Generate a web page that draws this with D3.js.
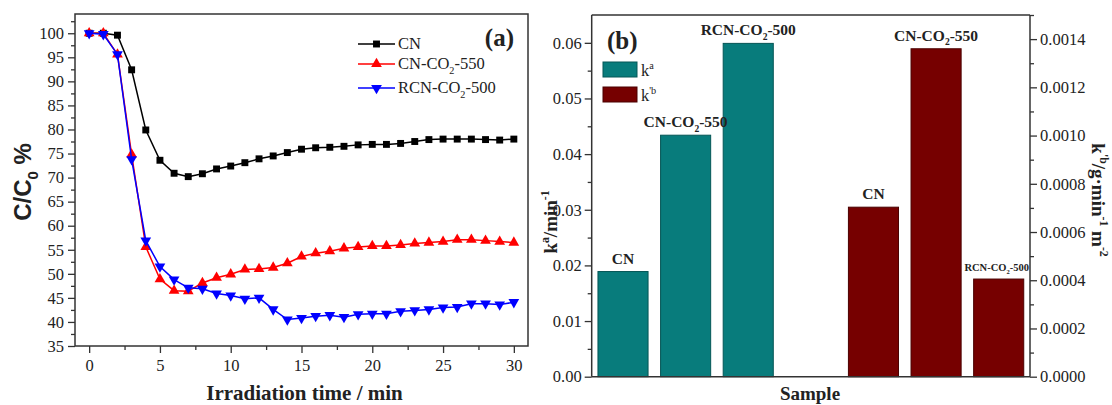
<!DOCTYPE html>
<html>
<head>
<meta charset="utf-8">
<script src="https://cdn.jsdelivr.net/npm/d3@7"></script>
<style>
  body { margin: 0; background: #fff; }
  text { font-family: "Liberation Serif", "Times New Roman", serif; fill: #222; }
</style>
</head>
<body>
<svg id="chart" width="1112" height="405"></svg>
<script>
// ---------- data ----------
var times = [0,1,2,3,4,5,6,7,8,9,10,11,12,13,14,15,16,17,18,19,20,21,22,23,24,25,26,27,28,29,30];
var cn      = [100,100,99.6,92.4,79.9,73.6,70.9,70.2,70.8,71.8,72.4,73.1,73.9,74.5,75.2,75.9,76.2,76.3,76.5,76.8,76.9,76.9,77.1,77.5,77.9,78.0,78.0,78.0,77.9,77.8,78.0];
var cn550   = [100,100,95.6,74.8,55.6,48.9,46.5,46.4,48.1,49.2,49.9,50.9,51.0,51.3,52.2,53.6,54.3,54.7,55.3,55.6,55.8,55.8,56.0,56.3,56.5,56.7,57.1,57.1,56.9,56.7,56.5];
var rcn500  = [100,99.8,95.6,73.8,56.9,51.5,48.8,47.1,46.9,45.9,45.5,44.8,45.0,42.6,40.5,40.8,41.2,41.4,41.0,41.6,41.7,41.7,42.2,42.4,42.6,43.0,43.1,43.8,43.8,43.6,44.1];
var seriesNames = ["CN", "CN-CO2-550", "RCN-CO2-500"];

var samples = ["CN", "CN-CO2-550", "RCN-CO2-500"];
var ka = [0.0189, 0.0434, 0.0599];        // k^a / min^-1
var kb = [0.000703, 0.00136, 0.000405];   // k'^b / g·min^-1 m^-2

var xTicksA = [0,5,10,15,20,25,30];
var yTicksA = [35,40,45,50,55,60,65,70,75,80,85,90,95,100];
var yTicksL = [0,0.01,0.02,0.03,0.04,0.05,0.06];
var yTicksR = [0,0.0002,0.0004,0.0006,0.0008,0.0010,0.0012,0.0014];

var svg = d3.select("#chart");

// split "CN-CO2-550" into parts so the 2 becomes a subscript
function partsOf(name) {
  var m = name.match(/^(.*CO)(2)(.*)$/);
  return m ? [[m[1], ""], [m[2], "sub"], [m[3], ""]] : [[name, ""]];
}
// write parts (normal / sub / sup) as tspans
function rich(t, parts, fs) {
  var shift = 0;
  parts.forEach(function(p) {
    var s = p[1] === "sub" ? fs * 0.3 : p[1] === "sup" ? -fs * 0.42 : 0;
    t.append("tspan")
      .attr("dy", s - shift)
      .style("font-size", p[1] ? (fs * 0.62) + "px" : fs + "px")
      .text(p[0]);
    shift = s;
  });
  return t;
}
function styleTicks(g, fs) {
  g.select(".domain").remove();
  g.selectAll(".tick line").attr("stroke", "#333").attr("stroke-width", 1.3);
  g.selectAll(".tick text").style("font-size", fs + "px").attr("fill", "#222");
}

// ================= panel (a) =================
var A = {left: 75, right: 528, top: 14, bottom: 346};
var x = d3.scaleLinear().domain([-1, 31]).range([A.left, A.right]);
var y = d3.scaleLinear().domain([35, 104]).range([A.bottom, A.top]);

// minor ticks
svg.append("g").attr("transform", "translate(0," + A.bottom + ")")
  .call(d3.axisBottom(x).tickValues(xTicksA.slice(0, -1).map(function(d){ return d + 2.5; })).tickSize(4).tickFormat(""))
  .call(styleTicks, 15);
svg.append("g").attr("transform", "translate(" + A.left + ",0)")
  .call(d3.axisLeft(y).tickValues(yTicksA.map(function(d){ return d + 2.5; })).tickSize(4).tickFormat(""))
  .call(styleTicks, 15);
// major ticks
svg.append("g").attr("transform", "translate(0," + A.bottom + ")")
  .call(d3.axisBottom(x).tickValues(xTicksA).tickSize(7).tickPadding(6))
  .call(styleTicks, 16.5);
svg.append("g").attr("transform", "translate(" + A.left + ",0)")
  .call(d3.axisLeft(y).tickValues(yTicksA).tickSize(7).tickPadding(4))
  .call(styleTicks, 16.5);

svg.append("rect")
  .attr("x", A.left).attr("y", A.top)
  .attr("width", A.right - A.left).attr("height", A.bottom - A.top)
  .attr("fill", "none").attr("stroke", "#333").attr("stroke-width", 1.5);

var lineSeries = [
  {name: seriesNames[0], values: cn,     color: "#000000", symbol: d3.symbolSquare,   rot: 0,   size: 48},
  {name: seriesNames[1], values: cn550,  color: "#ff0000", symbol: d3.symbolTriangle, rot: 0,   size: 50},
  {name: seriesNames[2], values: rcn500, color: "#0000ff", symbol: d3.symbolTriangle, rot: 180, size: 50}
];

var line = d3.line()
  .x(function(d, i) { return x(times[i]); })
  .y(function(d) { return y(d); });

lineSeries.forEach(function(s) {
  var g = svg.append("g");
  g.append("path")
    .attr("d", line(s.values))
    .attr("fill", "none")
    .attr("stroke", s.color)
    .attr("stroke-width", 1.5);
  g.selectAll("path.pt")
    .data(s.values)
    .enter()
    .append("path")
      .attr("class", "pt")
      .attr("d", d3.symbol().type(s.symbol).size(s.size))
      .attr("transform", function(d, i) { return "translate(" + x(times[i]) + "," + y(d) + ") rotate(" + s.rot + ")"; })
      .attr("fill", s.color);
});

// legend (a)
var legA = svg.append("g");
lineSeries.forEach(function(s, i) {
  var ly = [44, 64, 88][i];
  legA.append("line").attr("x1", 358).attr("x2", 395).attr("y1", ly).attr("y2", ly)
    .attr("stroke", s.color).attr("stroke-width", 1.5);
  legA.append("path")
    .attr("d", d3.symbol().type(s.symbol).size(s.size))
    .attr("transform", "translate(376.5," + ly + ") rotate(" + s.rot + ")")
    .attr("fill", s.color);
  rich(legA.append("text").attr("x", 398).attr("y", ly + 5), partsOf(s.name), 16.5);
});

svg.append("text").attr("x", 514).attr("y", 46)
  .attr("text-anchor", "end").style("font-size", "25px").style("font-weight", "bold")
  .text("(a)");

svg.append("text").attr("x", (A.left + A.right) / 2 + 3).attr("y", 400)
  .attr("text-anchor", "middle").style("font-size", "21px").style("font-weight", "bold")
  .text("Irradiation time / min");

var ya = svg.append("text")
  .attr("transform", "translate(31,182) rotate(-90)")
  .attr("text-anchor", "middle")
  .style("font-family", "'Liberation Sans', Arial, sans-serif")
  .style("font-weight", "bold");
rich(ya, [["C/C", ""], ["0", "sub"], [" %", ""]], 24);

// ================= panel (b) =================
var B = {left: 591.7, right: 1030, top: 15, bottom: 376.7};
var slots = ["a0", "a1", "a2", "gap", "b0", "b1", "b2"];
var xb = d3.scaleBand().domain(slots).range([B.left, B.right]).paddingInner(0.2).paddingOuter(0.1);
var yL = d3.scaleLinear().domain([0, 0.065]).range([B.bottom, B.top]);
var yR = d3.scaleLinear().domain([0, 0.0015]).range([B.bottom, B.top]);

// minor ticks
svg.append("g").attr("transform", "translate(" + B.left + ",0)")
  .call(d3.axisLeft(yL).tickValues(yTicksL.slice(0, -1).map(function(d){ return d + 0.005; })).tickSize(4).tickFormat(""))
  .call(styleTicks, 15);
svg.append("g").attr("transform", "translate(" + B.right + ",0)")
  .call(d3.axisRight(yR).tickValues(yTicksR.map(function(d){ return d + 0.0001; })).tickSize(4).tickFormat(""))
  .call(styleTicks, 15);
// major ticks
svg.append("g").attr("transform", "translate(" + B.left + ",0)")
  .call(d3.axisLeft(yL).tickValues(yTicksL).tickSize(7).tickPadding(3).tickFormat(d3.format(".2f")))
  .call(styleTicks, 16.5);
svg.append("g").attr("transform", "translate(" + B.right + ",0)")
  .call(d3.axisRight(yR).tickValues(yTicksR).tickSize(7).tickPadding(3).tickFormat(d3.format(".4f")))
  .call(styleTicks, 16.5);

var barSets = [
  {key: "ka", values: ka, slot: ["a0", "a1", "a2"], y: yL, fill: "#087c7c", stroke: "#055656"},
  {key: "kb", values: kb, slot: ["b0", "b1", "b2"], y: yR, fill: "#760000", stroke: "#4a0000"}
];

barSets.forEach(function(set) {
  var g = svg.append("g");
  g.selectAll("rect")
    .data(set.values)
    .enter()
    .append("rect")
      .attr("x", function(d, i) { return xb(set.slot[i]); })
      .attr("y", function(d) { return set.y(d); })
      .attr("width", xb.bandwidth())
      .attr("height", function(d) { return B.bottom - set.y(d); })
      .attr("fill", set.fill)
      .attr("stroke", set.stroke)
      .attr("stroke-width", 1);
  set.values.forEach(function(d, i) {
    var small = set.key === "kb" && i === 2;   // crowded label at the right axis
    var t = g.append("text")
      .attr("x", xb(set.slot[i]) + xb.bandwidth() / 2 - (small ? 2 : 0))
      .attr("y", set.y(d) - 8)
      .attr("text-anchor", "middle")
      .style("font-weight", "bold")
      .attr("fill", "#111");
    rich(t, partsOf(samples[i]), small ? 10.5 : 15.5);
  });
});

svg.append("line").attr("x1", B.left).attr("x2", B.right).attr("y1", B.top).attr("y2", B.top)
  .attr("stroke", "#333").attr("stroke-width", 1.5);
svg.append("line").attr("x1", B.left).attr("x2", B.right).attr("y1", B.bottom).attr("y2", B.bottom)
  .attr("stroke", "#333").attr("stroke-width", 1.5);
svg.append("line").attr("x1", B.left).attr("x2", B.left).attr("y1", B.top).attr("y2", B.bottom)
  .attr("stroke", "#333").attr("stroke-width", 1.5);
svg.append("line").attr("x1", B.right).attr("x2", B.right).attr("y1", B.top).attr("y2", B.bottom)
  .attr("stroke", "#333").attr("stroke-width", 1.5);

// legend (b)
var legB = svg.append("g");
barSets.forEach(function(set, i) {
  var ly = [62, 87][i];
  legB.append("rect").attr("x", 603).attr("y", ly).attr("width", 34).attr("height", 15)
    .attr("fill", set.fill).attr("stroke", set.stroke).attr("stroke-width", 1);
  var t = legB.append("text").attr("x", 641).attr("y", ly + 14);
  rich(t, i === 0 ? [["k", ""], ["a", "sup"]] : [["k", ""], ["'b", "sup"]], 16.5);
});

svg.append("text").attr("x", 607).attr("y", 49)
  .style("font-size", "25px").style("font-weight", "bold")
  .text("(b)");

svg.append("text").attr("x", 810).attr("y", 400)
  .attr("text-anchor", "middle").style("font-size", "19px").style("font-weight", "bold")
  .text("Sample");

var yl = svg.append("text")
  .attr("transform", "translate(557,222) rotate(-90)")
  .attr("text-anchor", "middle")
  .style("font-weight", "bold");
rich(yl, [["k", ""], ["a", "sup"], ["/min", ""], ["-1", "sup"]], 19);

var yr = svg.append("text")
  .attr("transform", "translate(1092,200) rotate(90)")
  .attr("text-anchor", "middle")
  .style("font-weight", "bold");
rich(yr, [["k", ""], ["'b", "sup"], ["/g\u00b7min", ""], ["-1", "sup"], [" m", ""], ["-2", "sup"]], 19);
</script>
</body>
</html>
